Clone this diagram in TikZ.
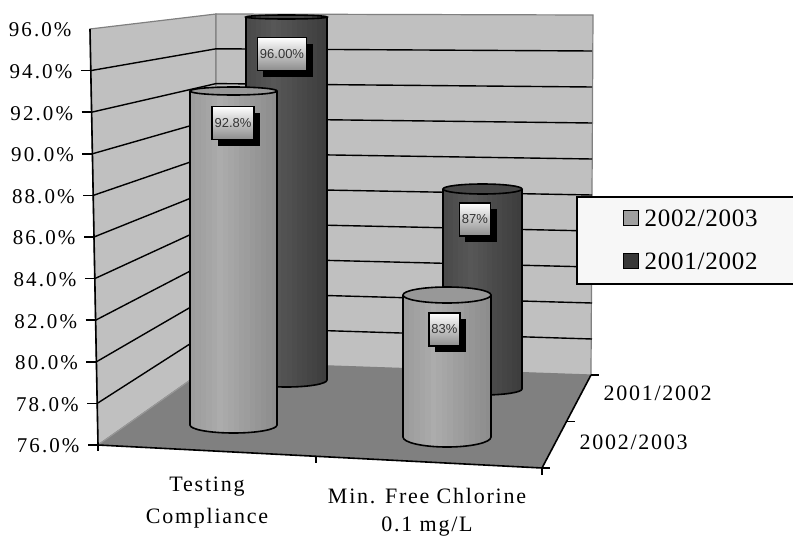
\documentclass[tikz,border=0pt]{standalone}
\usepackage{fontspec}
\setmainfont{Liberation Serif}
\newfontfamily\axisfont[LetterSpace=10]{Liberation Serif}
\newfontfamily\catfont[LetterSpace=8]{Liberation Serif}
\newfontfamily\keyfont[LetterSpace=3]{Liberation Serif}
\newfontfamily\valfont{Liberation Sans}
\usetikzlibrary{shadows}
\definecolor{wallgray}{HTML}{C0C0C0}
\definecolor{floorgray}{HTML}{808080}
\definecolor{lightbar}{HTML}{A0A0A0}
\definecolor{darkbar}{HTML}{4A4A4A}
\definecolor{lightbarM}{HTML}{ACACAC}
\definecolor{lightbarR}{HTML}{888888}
\definecolor{darkbarM}{HTML}{575757}
\definecolor{darkbarR}{HTML}{3A3A3A}

\begin{document}
\begin{tikzpicture}[x=1pt, y=-1pt,
    wall/.style={fill=wallgray, draw=floorgray, line width=1.2pt},
    gridline/.style={draw=black, line width=1.4pt},
    axisline/.style={draw=black, line width=1.6pt},
    barline/.style={draw=black, line width=1.6pt},
    valbox/.style={draw=black, line width=1.4pt, top color=white, bottom color=black!45,
        minimum height=33pt, inner xsep=2.5pt, text=black!80,
        font=\valfont\fontsize{13}{13}\selectfont,
        drop shadow={shadow xshift=6pt, shadow yshift=-6pt, fill=black, opacity=1}},
    ticklbl/.style={anchor=east, font=\axisfont\fontsize{21}{21}\selectfont},
    catlbl/.style={font=\catfont\fontsize{22}{22}\selectfont},
    keybox/.style={draw=black, line width=1.2pt, minimum size=15pt, inner sep=0pt},
    keylbl/.style={anchor=west, font=\keyfont\fontsize{25}{25}\selectfont},
]
    \useasboundingbox (0,0) rectangle (793,538);

    % corners of walls and floor
    \coordinate (lwtop) at (90,29);
    \coordinate (bwtl) at (216,14);
    \coordinate (bwtr) at (593,15);
    \coordinate (bwbl) at (216,362);
    \coordinate (bwbr) at (591,375);
    \coordinate (flfront) at (98,445);
    \coordinate (flright) at (542,468);

    % walls
    \draw[wall] (lwtop) -- (bwtl) -- (bwbl) -- (flfront) -- cycle;
    \draw[wall] (bwtl) -- (bwtr) -- (bwbr) -- (bwbl) -- cycle;

    % gridlines
    \foreach \v in {78,80,...,94} {
        \draw[gridline] ({98-(\v-76)*0.4},{445-(\v-76)*20.8}) -- (216,{362-(\v-76)*17.4}) -- (592,{375-(\v-76)*18});
    }

    % floor
    \fill[floorgray] (flfront) -- (bwbl) -- (bwbr) -- (flright) -- cycle;
    \draw[black!40, line width=1pt] (flfront) -- (bwbl);

    % axes
    \draw[axisline] (lwtop) -- (flfront) -- (flright) -- (bwbr);
    \foreach \v in {76,78,...,94} {
        \draw[axisline] ({98-(\v-76)*0.4-10},{445-(\v-76)*20.8}) -- ({98-(\v-76)*0.4},{445-(\v-76)*20.8});
    }
    \foreach \v in {76,78,...,96} {
        \node[ticklbl] (ylbl\v) at ({98-(\v-76)*0.4-15},{446-(\v-76)*20.8}) {\v.0\%};
    }
    \draw[axisline] (flfront) -- ++(0,6);
    \draw[axisline] (316,456) -- (316,463);
    \draw[axisline] (flright) -- ++(0,7);
    \draw[axisline] (flright) -- ++(8,0);
    \draw[axisline] (566.5,421.5) -- ++(8,0);
    \draw[axisline] (bwbr) -- ++(8,0);

    % bars: body in vertical strips, then outline and top
    \foreach \xl/\xr/\yt/\ht/\yb/\hb/\col/\cm/\cr in {246/327/17/2/380/7/darkbar/darkbarM/darkbarR,
            443/522/189/5/389/6/darkbar/darkbarM/darkbarR,
            190/277/91/4/425/8/lightbar/lightbarM/lightbarR,
            403/491/295/8/437/10/lightbar/lightbarM/lightbarR} {
        \begin{scope}
            \clip (\xl,\yt) -- (\xl,\yb) arc[start angle=180, end angle=0, x radius={(\xr-\xl)/2}, y radius=\hb]
                -- (\xr,\yt) -- cycle;
            \foreach \i in {0,...,15} {
                \pgfmathtruncatemacro\p{max(0,100-140*abs((\i+0.5)/16-0.35))}
                \fill[\cm!\p!\cr] ({\xl+(\xr-\xl)*\i/16},{\yt-\ht}) rectangle ({\xl+(\xr-\xl)*(\i+1)/16+0.3},{\yb+\hb+2});
            }
        \end{scope}
        \draw[barline] (\xl,\yt) -- (\xl,\yb) arc[start angle=180, end angle=0, x radius={(\xr-\xl)/2}, y radius=\hb]
            -- (\xr,\yt);
        \draw[barline, fill=\col!95!black] ({(\xl+\xr)/2},\yt) ellipse [x radius={(\xr-\xl)/2}, y radius=\ht];
    }

    % value labels
    \node[valbox] (val96) at (282,54) {96.00\%};
    \node[valbox] (val928) at (233,123) {92.8\%};
    \node[valbox] (val87) at (475,219.5) {87\%};
    \node[valbox] (val83) at (444.5,329.5) {83\%};

    % category labels
    \node[catlbl] (cat1a) at (207,487) {Testing};
    \node[catlbl] (cat1b) at (207,518) {Compliance};
    \node[catlbl] (cat2a) at (427,496) {Min. Free Chlorine};
    \node[catlbl] (cat2b) at (427,527) {0.1 mg/L};
    \node[catlbl, anchor=west] (ser1) at (600,393) {2001/2002};
    \node[catlbl, anchor=west] (ser2) at (576,442) {2002/2003};

    % legend
    \node[draw=black, line width=1.6pt, fill=black!3, minimum width=230pt, minimum height=87pt, anchor=north west] (legend) at (576,196) {};
    \node[keybox, fill=lightbar] (key1) at (631,218) {};
    \node[keylbl] (key1txt) at ([xshift=2pt]key1.east) {2002/2003};
    \node[keybox, fill=darkbar!110] (key2) at (631,261) {};
    \node[keylbl] (key2txt) at ([xshift=2pt]key2.east) {2001/2002};
\end{tikzpicture}
\end{document}
